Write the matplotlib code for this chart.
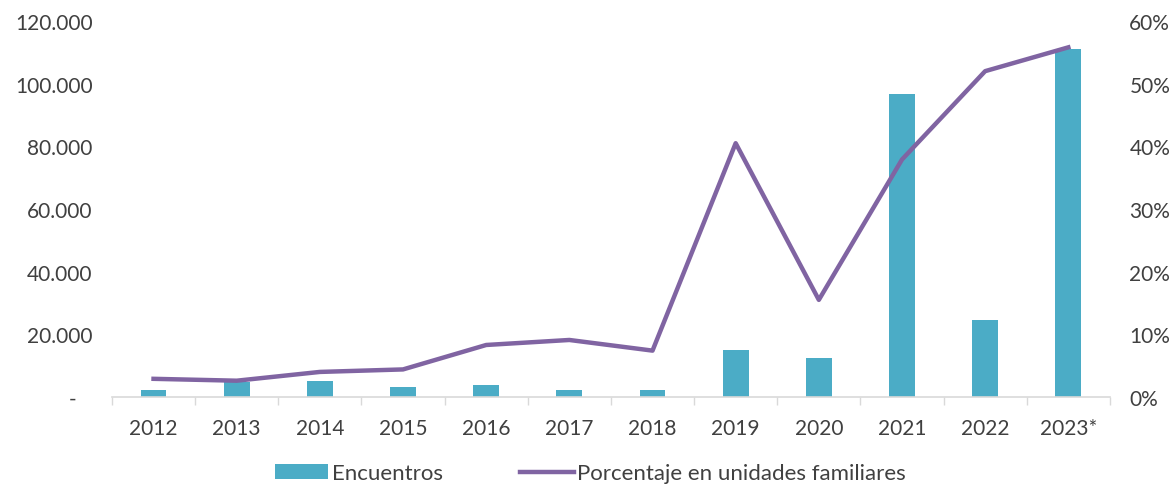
import numpy as np
import matplotlib
matplotlib.use("Agg")
import matplotlib.pyplot as plt
from matplotlib.ticker import FixedLocator, FuncFormatter

plt.rcParams['font.family'] = ['Lato', 'DejaVu Sans']

# data
years = ['2012', '2013', '2014', '2015', '2016', '2017', '2018',
         '2019', '2020', '2021', '2022', '2023*']
encuentros = [2200, 4700, 5000, 3100, 3700, 2200, 2100,
              15100, 12500, 96700, 24700, 111100]
pct_familiares = [2.9, 2.6, 4.0, 4.4, 8.3, 9.1, 7.4,
                  40.5, 15.5, 37.9, 52.0, 55.8]

bar_color = '#4BACC6'
line_color = '#8064A2'
text_color = '#404040'

fig = plt.figure(figsize=(11.76, 4.85), dpi=100)
ax = fig.add_axes([0.0952, 0.1794, 0.8486, 0.7752])
ax2 = ax.twinx()

x = np.arange(len(years))
ax.bar(x, encuentros, width=0.31, color=bar_color, label='Encuentros', zorder=2)
ax2.plot(x, pct_familiares, color=line_color, linewidth=3.2,
         label='Porcentaje en unidades familiares', zorder=3)

ax.set_xlim(-0.5, len(years) - 0.5)
ax.set_ylim(0, 120000)
ax2.set_ylim(0, 60)

# left axis, zero shown as a dash like an accounting format
ax.set_yticks(np.arange(0, 120001, 20000))
ax.yaxis.set_major_formatter(FuncFormatter(
    lambda v, p: '-' + ' ' * 3 if v == 0 else f'{int(v):,}'.replace(',', '.')))
ax2.set_yticks(np.arange(0, 61, 10))
ax2.yaxis.set_major_formatter(FuncFormatter(lambda v, p: f'{int(v)}%'))

# x axis: labels centred, tick marks on category boundaries
ax.set_xticks(x)
ax.set_xticklabels(years)
ax.xaxis.set_minor_locator(FixedLocator(np.arange(-0.5, len(years), 1)))
ax.tick_params(axis='x', which='major', length=0, pad=15,
               labelsize=15, labelcolor=text_color)
ax.tick_params(axis='x', which='minor', length=6, color='#D9D9D9', width=1)
ax.tick_params(axis='y', length=0, pad=14, labelsize=15, labelcolor=text_color)
ax2.tick_params(axis='y', length=0, pad=14, labelsize=15, labelcolor=text_color)

for a in (ax, ax2):
    for s in ['top', 'right', 'left', 'bottom']:
        a.spines[s].set_visible(False)
ax.spines['bottom'].set_visible(True)
ax.spines['bottom'].set_color('#D9D9D9')
ax.spines['bottom'].set_linewidth(1.2)

ax.set_zorder(ax2.get_zorder() - 1)
ax2.patch.set_visible(False)

h1, l1 = ax.get_legend_handles_labels()
h2, l2 = ax2.get_legend_handles_labels()
fig.legend(h1 + h2, l1 + l2, loc='lower center', bbox_to_anchor=(0.502, -0.04),
           ncol=2, frameon=False, fontsize=16, handlelength=2.4,
           handletextpad=0.15, columnspacing=3.5, labelcolor=text_color)

fig.savefig('out.png', dpi=100)
